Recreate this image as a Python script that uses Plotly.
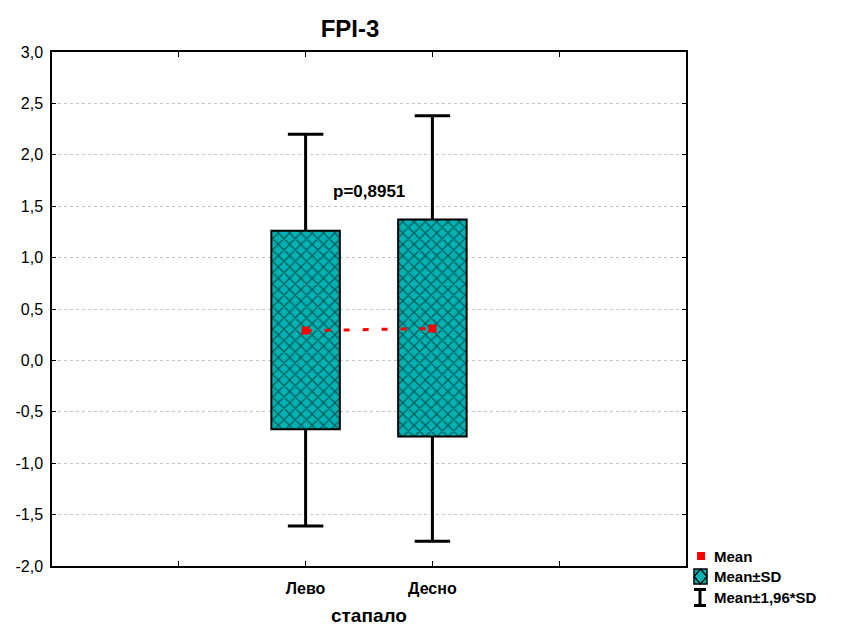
import plotly.graph_objects as go

# ---------------- data ----------------
categories = ["Лево", "Десно"]
means = [0.29, 0.31]
sd_low = [-0.67, -0.74]
sd_high = [1.26, 1.37]
ci_low = [-1.61, -1.76]
ci_high = [2.20, 2.38]
y_tick_vals = [-2.0, -1.5, -1.0, -0.5, 0.0, 0.5, 1.0, 1.5, 2.0, 2.5, 3.0]
y_tick_text = ["-2,0", "-1,5", "-1,0", "-0,5", "0,0", "0,5", "1,0", "1,5", "2,0", "2,5", "3,0"]
p_label = "p=0,8951"
title_text = "FPI-3"
x_title = "стапало"
legend_labels = ["Mean", "Mean±SD", "Mean±1,96*SD"]

# ---------------- layout constants ----------------
W, H = 841, 626
L, R, T, B = 52, 155, 52, 60
PW, PH = W - L - R, H - T - B
FONT = "Arial, Liberation Sans, sans-serif"
FILL = "#00B2B2"

positions = list(range(1, len(categories) + 1))
x_tick_vals = [0] + positions + [len(categories) + 1]
x_tick_text = [""] + categories + [""]


def px(x):
    return (x - L) / PW


def py(y):
    return (H - B - y) / PH


fig = go.Figure()

# Mean ± SD boxes
fig.add_trace(go.Bar(
    x=positions,
    y=[h - l for h, l in zip(sd_high, sd_low)],
    base=sd_low,
    width=0.54,
    marker=dict(
        color=FILL,
        line=dict(color="black", width=2),
        pattern=dict(shape="x", fgcolor="black", bgcolor=FILL, size=8, solidity=0.28),
    ),
    showlegend=False,
    hoverinfo="skip",
))

# Whiskers (Mean ± 1.96*SD)
cap = 0.14
wx, wy = [], []
for xp, lo, hi, clo, chi in zip(positions, sd_low, sd_high, ci_low, ci_high):
    wx += [xp, xp, None, xp - cap, xp + cap, None, xp, xp, None, xp - cap, xp + cap, None]
    wy += [hi, chi, None, chi, chi, None, lo, clo, None, clo, clo, None]
fig.add_trace(go.Scatter(x=wx, y=wy, mode="lines", line=dict(color="black", width=3),
                         showlegend=False, hoverinfo="skip"))

# Mean dashed line and markers
fig.add_trace(go.Scatter(x=positions, y=means, mode="lines",
                         line=dict(color="red", width=3, dash="6px,13px"),
                         showlegend=False, hoverinfo="skip"))
fig.add_trace(go.Scatter(x=positions, y=means, mode="markers",
                         marker=dict(symbol="square", size=8, color="red"),
                         showlegend=False))

# p-value annotation
fig.add_annotation(x=(positions[0] + positions[-1]) / 2, y=1.64, xref="x", yref="y",
                   text=p_label, showarrow=False,
                   font=dict(family=FONT, size=17, color="black", weight="bold"))

# ---------------- manual legend ----------------
shapes = []
shapes.append(dict(type="rect", xref="paper", yref="paper",
                   x0=px(697), x1=px(705), y0=py(560), y1=py(552),
                   fillcolor="red", line=dict(width=0)))
shapes.append(dict(type="rect", xref="paper", yref="paper",
                   x0=px(694), x1=px(707), y0=py(584), y1=py(569),
                   fillcolor=FILL, line=dict(color="black", width=1.5)))
cx, cy = 700.5, 576.5
shapes.append(dict(type="path", xref="paper", yref="paper",
                   path=f"M{px(cx)},{py(569)} L{px(707)},{py(cy)} L{px(cx)},{py(584)} L{px(694)},{py(cy)} Z",
                   fillcolor="rgba(0,0,0,0)", line=dict(color="black", width=1.2)))
shapes.append(dict(type="line", xref="paper", yref="paper",
                   x0=px(700), x1=px(700), y0=py(589), y1=py(606),
                   line=dict(color="black", width=3)))
shapes.append(dict(type="line", xref="paper", yref="paper",
                   x0=px(694), x1=px(706), y0=py(589.5), y1=py(589.5),
                   line=dict(color="black", width=3)))
shapes.append(dict(type="line", xref="paper", yref="paper",
                   x0=px(694), x1=px(706), y0=py(605.5), y1=py(605.5),
                   line=dict(color="black", width=3)))

for label, yc in zip(legend_labels, [556, 576.5, 597]):
    fig.add_annotation(x=px(712), y=py(yc), xref="paper", yref="paper",
                       xanchor="left", yanchor="middle", text=label, showarrow=False,
                       font=dict(family=FONT, size=15, color="black", weight="bold"))

# x-axis title
fig.add_annotation(x=px(369), y=py(615), xref="paper", yref="paper",
                   xanchor="center", yanchor="middle",
                   text=x_title, showarrow=False,
                   font=dict(family=FONT, size=19, color="black", weight="bold"))

fig.update_layout(
    width=W, height=H,
    margin=dict(l=L, r=R, t=T, b=B),
    paper_bgcolor="white", plot_bgcolor="white",
    showlegend=False,
    shapes=shapes,
    title=dict(text=title_text, x=350 / W, xanchor="center", y=1 - 29 / H, yanchor="middle",
               font=dict(family=FONT, size=24, color="black", weight="bold")),
    font=dict(family=FONT, color="black"),
    xaxis=dict(
        range=[0 - 1, len(categories) + 2],
        tickvals=x_tick_vals, ticktext=x_tick_text,
        ticks="inside", ticklen=5, tickcolor="black",
        showline=True, linecolor="black", linewidth=1.5, mirror="ticks",
        showgrid=False, zeroline=False, automargin=False,
        tickfont=dict(family=FONT, size=16, color="black", weight="bold"),
        ticklabelstandoff=7,
    ),
    yaxis=dict(
        range=[-2, 3],
        tickvals=y_tick_vals, ticktext=y_tick_text,
        ticks="inside", ticklen=4, tickcolor="black",
        showline=True, linecolor="black", linewidth=1.5, mirror="ticks",
        showgrid=True, gridcolor="#c4c4c4", griddash="dot", gridwidth=1,
        zeroline=False, automargin=False,
        tickfont=dict(family=FONT, size=16, color="black"),
        ticklabelstandoff=4,
    ),
)

fig.write_html("out.html")
